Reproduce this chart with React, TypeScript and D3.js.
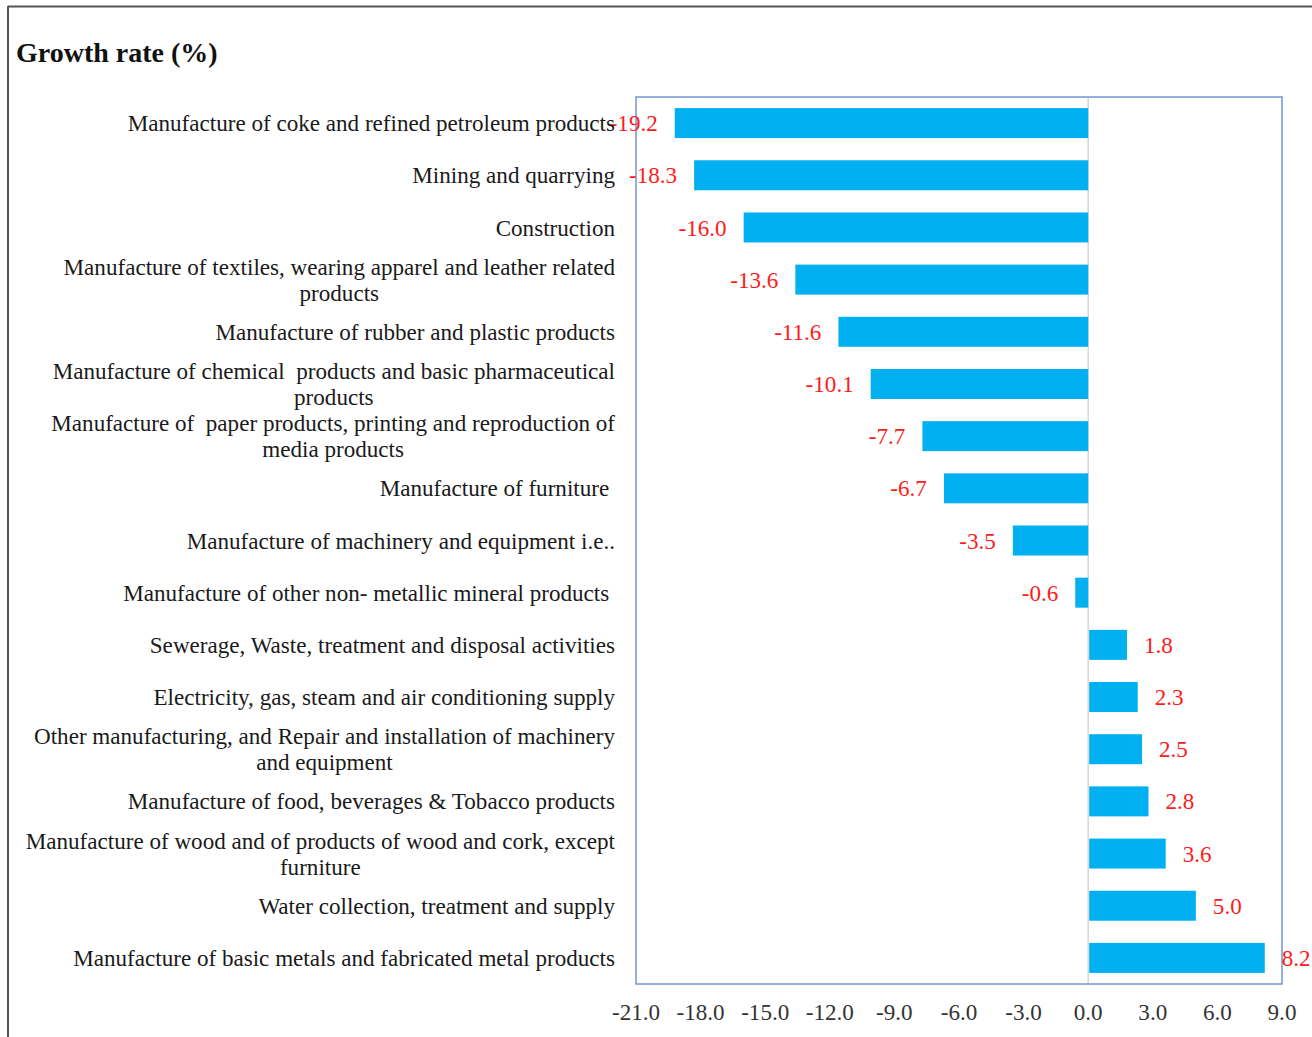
import React, { useEffect, useRef } from "react";
import * as d3 from "d3";

const categories: string[][] = [
  ["Manufacture of coke and refined petroleum products"],
  ["Mining and quarrying"],
  ["Construction"],
  ["Manufacture of textiles, wearing apparel and leather related", "products"],
  ["Manufacture of rubber and plastic products"],
  ["Manufacture of chemical  products and basic pharmaceutical", "products"],
  ["Manufacture of  paper products, printing and reproduction of", "media products"],
  ["Manufacture of furniture "],
  ["Manufacture of machinery and equipment i.e.."],
  ["Manufacture of other non- metallic mineral products "],
  ["Sewerage, Waste, treatment and disposal activities"],
  ["Electricity, gas, steam and air conditioning supply"],
  ["Other manufacturing, and Repair and installation of machinery", "and equipment"],
  ["Manufacture of food, beverages & Tobacco products"],
  ["Manufacture of wood and of products of wood and cork, except", "furniture"],
  ["Water collection, treatment and supply"],
  ["Manufacture of basic metals and fabricated metal products"],
];

const values: number[] = [
  -19.2, -18.3, -16.0, -13.6, -11.6, -10.1, -7.7, -6.7, -3.5, -0.6,
  1.8, 2.3, 2.5, 2.8, 3.6, 5.0, 8.2,
];

const xTicks: number[] = [-21, -18, -15, -12, -9, -6, -3, 0, 3, 6, 9];

const title = "Growth rate (%)";

export default function App() {
  const ref = useRef<SVGSVGElement | null>(null);

  useEffect(() => {
    const svg = d3.select(ref.current);
    svg.selectAll("*").remove();

    const W = 1312, H = 1037;
    const left = 636, right = 1282, top = 97, bottom = 984;
    const font = "'Liberation Serif', 'Times New Roman', serif";
    const fs = 23.1;

    const x = d3.scaleLinear().domain([-21, 9]).range([left, right]);
    const y = d3
      .scaleBand<number>()
      .domain(d3.range(categories.length))
      .range([top, bottom])
      .paddingInner(0.425)
      .paddingOuter(0.2125);

    // outer frame
    svg.append("line").attr("x1", 8).attr("x2", W).attr("y1", 6.5).attr("y2", 6.5)
      .attr("stroke", "#555").attr("stroke-width", 2);
    svg.append("line").attr("x1", 8).attr("x2", 8).attr("y1", 6).attr("y2", H)
      .attr("stroke", "#555").attr("stroke-width", 2);

    // title
    svg.append("text").attr("x", 16).attr("y", 62).text(title)
      .attr("font-family", font).attr("font-weight", "bold").attr("font-size", 28)
      .attr("fill", "#111");

    // zero line
    svg.append("line").attr("x1", x(0)).attr("x2", x(0)).attr("y1", top).attr("y2", bottom)
      .attr("stroke", "#d6d6d6").attr("stroke-width", 1.5);

    // bars
    const bw = y.bandwidth();
    svg.append("g").selectAll("rect").data(values).join("rect")
      .attr("x", (d) => (d < 0 ? x(d) : x(0) + 1))
      .attr("width", (d) => Math.abs(x(d) - x(0)) - (d < 0 ? 0 : 1))
      .attr("y", (_d, i) => y(i)!)
      .attr("height", bw)
      .attr("fill", "#00b0f0");

    // plot border
    svg.append("rect").attr("x", left).attr("y", top)
      .attr("width", right - left).attr("height", bottom - top)
      .attr("fill", "none").attr("stroke", "#7098d6").attr("stroke-width", 1.5);

    // value labels
    svg.append("g").selectAll("text").data(values).join("text")
      .attr("x", (d) => (d < 0 ? x(d) - 17 : x(d) + 17))
      .attr("y", (_d, i) => y(i)! + bw / 2)
      .attr("dy", "0.35em")
      .attr("text-anchor", (d) => (d < 0 ? "end" : "start"))
      .attr("font-family", font).attr("font-size", fs)
      .attr("fill", "#ff1a1a")
      .text((d) => d.toFixed(1));

    // category labels
    const labelRight = 615;
    const lineGap = 26;
    categories.forEach((lines, i) => {
      const cy = y(i)! + bw / 2;
      const n = lines.length;
      if (n === 1) {
        svg.append("text").attr("x", labelRight).attr("y", cy).attr("dy", "0.35em")
          .attr("text-anchor", "end").style("white-space", "pre")
          .attr("font-family", font).attr("font-size", fs).attr("fill", "#1a1a1a")
          .text(lines[0]);
      } else {
        const first = svg.append("text").attr("x", labelRight)
          .attr("y", cy - lineGap / 2).attr("dy", "0.35em")
          .attr("text-anchor", "end").style("white-space", "pre")
          .attr("font-family", font).attr("font-size", fs).attr("fill", "#1a1a1a")
          .text(lines[0]);
        const w = (first.node() as SVGTextElement).getComputedTextLength();
        const mid = labelRight - w / 2;
        for (let k = 1; k < n; k++) {
          svg.append("text").attr("x", mid)
            .attr("y", cy - lineGap / 2 + k * lineGap).attr("dy", "0.35em")
            .attr("text-anchor", "middle").style("white-space", "pre")
            .attr("font-family", font).attr("font-size", fs).attr("fill", "#1a1a1a")
            .text(lines[k]);
        }
      }
    });

    // x tick labels
    svg.append("g").selectAll("text").data(xTicks).join("text")
      .attr("x", (d) => x(d)).attr("y", 1012).attr("dy", "0.35em")
      .attr("text-anchor", "middle")
      .attr("font-family", font).attr("font-size", fs).attr("fill", "#333")
      .text((d) => d.toFixed(1));
  }, []);

  return (
    <svg
      ref={ref}
      width={1312}
      height={1037}
      style={{ position: "absolute", left: 0, top: 0, background: "#fff" }}
    />
  );
}
